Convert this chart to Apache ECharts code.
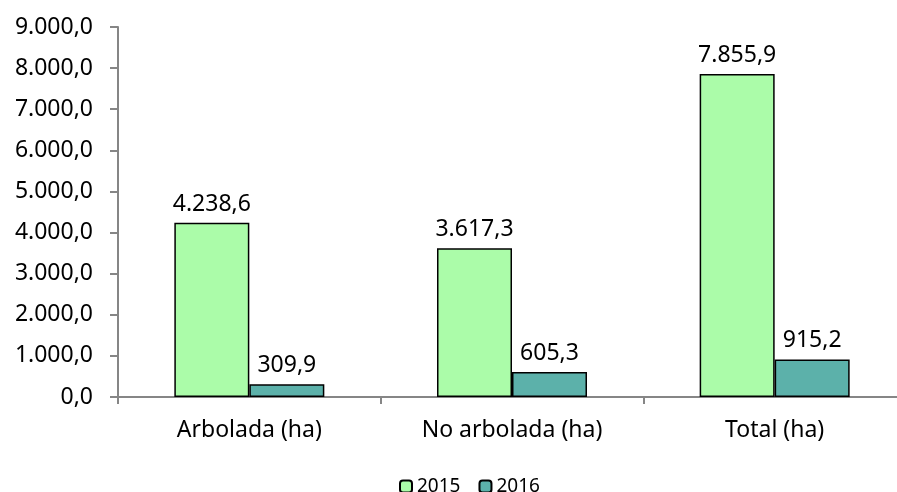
<!DOCTYPE html>
<html>
<head>
<meta charset="utf-8">
<script src="https://cdn.jsdelivr.net/npm/echarts@6/dist/echarts.min.js"></script>
<style>html,body{margin:0;padding:0;background:#fff}#c{width:897px;height:492px}</style>
</head>
<body>
<div id="c"></div>
<script>
const categories = ['Arbolada (ha)', 'No arbolada (ha)', 'Total (ha)'];
const values2015 = [4238.6, 3617.3, 7855.9];
const values2016 = [309.9, 605.3, 915.2];
const seriesNames = ['2015', '2016'];

function fmt(v) {
  const s = Number(v).toFixed(1);
  let [i, d] = s.split('.');
  i = i.replace(/\B(?=(\d{3})+(?!\d))/g, '.');
  return i + ',' + d;
}

const font = 'Noto Sans';
const chart = echarts.init(document.getElementById('c'));
chart.setOption({
  animation: false,
  textStyle: { fontFamily: font },
  grid: { left: 118, width: 788, top: 27, bottom: 95, containLabel: false, outerBoundsMode: 'none' },
  legend: {
    top: 472, left: 394,
    itemWidth: 12, itemHeight: 12, itemGap: 18,
    textStyle: { fontFamily: font, fontSize: 19, color: '#000' },
    data: seriesNames
  },
  xAxis: {
    type: 'category', data: categories,
    axisLine: { lineStyle: { color: '#868686', width: 2 } },
    axisTick: { show: true, length: 7, lineStyle: { color: '#868686', width: 2 } },
    axisLabel: { fontFamily: font, fontSize: 23, color: '#000', margin: 22 }
  },
  yAxis: {
    type: 'value', min: 0, max: 9000, interval: 1000,
    splitLine: { show: false },
    axisLine: { show: true, lineStyle: { color: '#868686', width: 2 } },
    axisTick: { show: true, length: 8, lineStyle: { color: '#868686', width: 2 } },
    axisLabel: { fontFamily: font, fontSize: 23, color: '#000', margin: 25, formatter: fmt }
  },
  series: [
    {
      name: seriesNames[0], type: 'bar', data: values2015, barWidth: 75, barGap: '0%',
      itemStyle: { color: '#ABFCA9', borderColor: '#000', borderWidth: 1.5 },
      label: { show: true, position: 'top', distance: 7, fontFamily: font, fontSize: 23, color: '#000', formatter: p => fmt(p.value) }
    },
    {
      name: seriesNames[1], type: 'bar', data: values2016, barWidth: 75, barGap: '0%',
      itemStyle: { color: '#5CB1AA', borderColor: '#000', borderWidth: 1.5 },
      label: { show: true, position: 'top', distance: 7, fontFamily: font, fontSize: 23, color: '#000', formatter: p => fmt(p.value) }
    }
  ]
});
</script>
</body>
</html>
